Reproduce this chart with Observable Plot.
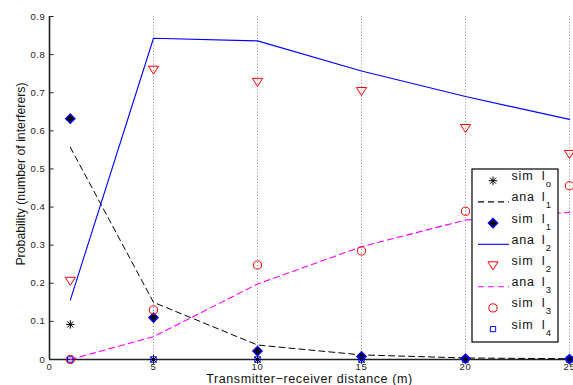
<!DOCTYPE html>
<html>
<head>
<meta charset="utf-8">
<script src="https://cdn.jsdelivr.net/npm/d3@7"></script>
<script src="https://cdn.jsdelivr.net/npm/@observablehq/plot@0.6"></script>
<style>
  html, body { margin: 0; padding: 0; background: #fff; }
  #chart svg { display: block; }
</style>
</head>
<body>
<div id="chart"></div>
<script>
// ---- data ----
const distances = [1, 5, 10, 15, 20, 25];
const simI0 = [0.092, 0, 0, 0, 0, 0];
const anaI1 = [0.557, 0.150, 0.038, 0.012, 0.004, 0.002];
const simI1 = [0.632, 0.110, 0.022, 0.008, 0.002, 0.001];
const anaI2 = [0.156, 0.843, 0.836, 0.757, 0.690, 0.630];
const simI2 = [0.206, 0.760, 0.728, 0.704, 0.607, 0.539];
const anaI3 = [0.000, 0.060, 0.198, 0.296, 0.366, 0.386];
const simI3 = [0.000, 0.130, 0.248, 0.285, 0.389, 0.456];
const simI4 = [0, 0, 0, 0, 0, 0];

const xTicks = [0, 5, 10, 15, 20, 25];
const yTicks = [0, 0.1, 0.2, 0.3, 0.4, 0.5, 0.6, 0.7, 0.8, 0.9];
const gridX = [5, 10, 15, 20, 25];

const xLabel = "Transmitter\u2212receiver distance (m)";
const yLabel = "Probability (number of interferers)";

const legendItems = [
  {kind: "sim", sub: "o", type: "asterisk"},
  {kind: "ana", sub: "1", type: "dashBlack"},
  {kind: "sim", sub: "1", type: "diamond"},
  {kind: "ana", sub: "2", type: "lineBlue"},
  {kind: "sim", sub: "2", type: "triangle"},
  {kind: "ana", sub: "3", type: "dashMagenta"},
  {kind: "sim", sub: "3", type: "circle"},
  {kind: "sim", sub: "4", type: "square"}
];

// ---- helpers ----
const series = (ys) => distances.map((x, i) => ({x, y: ys[i]}));
const triangleDown = {
  draw(context, size) {
    const r = Math.sqrt(size / Math.PI);
    context.moveTo(-r * 1.1, -r * 0.8);
    context.lineTo(r * 1.1, -r * 0.8);
    context.lineTo(0, r * 0.95);
    context.closePath();
  }
};
const star8 = {
  draw(context, size) {
    const r = Math.sqrt(size / Math.PI);
    const d = r * 0.72;
    context.moveTo(-r, 0); context.lineTo(r, 0);
    context.moveTo(0, -r); context.lineTo(0, r);
    context.moveTo(-d, -d); context.lineTo(d, d);
    context.moveTo(-d, d); context.lineTo(d, -d);
  }
};
const BLUE = "#0000ff", RED = "#ff0000", MAG = "#ff00ff", BLK = "#000000";
const FONT = "'Liberation Sans', Arial, Helvetica, sans-serif";

const R = {asterisk: 4.2, diamond: 4.2, triangle: 4.6, circle: 4.1, square: 3.0};

const chart = Plot.plot({
  width: 573,
  height: 385,
  marginLeft: 49,
  marginRight: 4,
  marginTop: 16,
  marginBottom: 26,
  style: {fontFamily: FONT, color: "#222", background: "#fff", letterSpacing: "0.6px"},
  x: {domain: [0, 25]},
  y: {domain: [0, 0.9]},
  marks: [
    // grid
    Plot.ruleX(gridX, {y1: 0, y2: 0.9, stroke: "#8c8c8c", strokeWidth: 1, strokeDasharray: "1,2.2"}),
    // axes lines and inward ticks
    Plot.ruleX([0], {y1: 0, y2: 0.9, stroke: "#222", strokeWidth: 1.6}),
    Plot.ruleY([0], {x1: 0, x2: 25.3, stroke: "#222", strokeWidth: 1.6}),
    Plot.ruleY(yTicks, {x1: 0, x2: 0.22, stroke: "#222", strokeWidth: 1}),
    Plot.ruleX(xTicks, {y1: 0, y2: 0.012, stroke: "#222", strokeWidth: 1}),
    Plot.axisX(xTicks, {tickSize: 0, tickPadding: 4, fontSize: 9.5, label: null, tickFormat: d => String(d)}),
    Plot.axisY(yTicks, {tickSize: 0, tickPadding: 4, fontSize: 9.5, label: null, tickFormat: d => d === 0 ? "0" : d3.format(".1f")(d)}),
    // series, in legend order
    Plot.dot(series(simI0), {x: "x", y: "y", symbol: star8, r: R.asterisk, stroke: BLK, strokeWidth: 1}),
    Plot.line(series(anaI1), {x: "x", y: "y", stroke: BLK, strokeWidth: 1, strokeDasharray: "6,4"}),
    Plot.dot(series(simI1), {x: "x", y: "y", symbol: "diamond2", r: R.diamond, fill: BLK, stroke: BLUE, strokeWidth: 1.3}),
    Plot.line(series(anaI2), {x: "x", y: "y", stroke: BLUE, strokeWidth: 1.1}),
    Plot.dot(series(simI2), {x: "x", y: "y", symbol: triangleDown, r: R.triangle, fill: "none", stroke: RED, strokeWidth: 1}),
    Plot.line(series(anaI3), {x: "x", y: "y", stroke: MAG, strokeWidth: 1.1, strokeDasharray: "6,4"}),
    Plot.dot(series(simI3), {x: "x", y: "y", symbol: "circle", r: R.circle, fill: "none", stroke: RED, strokeWidth: 1}),
    Plot.dot(series(simI4), {x: "x", y: "y", symbol: "square", r: R.square, fill: "none", stroke: BLUE, strokeWidth: 1}),
    // axis titles
    Plot.text([xLabel], {frameAnchor: "bottom", textAnchor: "middle", lineAnchor: "bottom", dy: 23, fontSize: 12.5, fill: "#111"}),
    Plot.text([yLabel], {frameAnchor: "left", textAnchor: "middle", lineAnchor: "middle", rotate: -90, dx: -28, dy: -14, fontSize: 12.3, fill: "#111"})
  ]
});

document.getElementById("chart").appendChild(chart);

const svg = d3.select(chart);
svg.selectAll("text").filter(function () { return this.textContent === yLabel; }).attr("letter-spacing", "0px");

// ---- legend (drawn on top, white box) ----
const lg = svg.append("g").attr("font-family", FONT).attr("font-size", 12.5).attr("fill", "#111")
  .attr("text-anchor", "start").attr("letter-spacing", "0.8px");
const box = {x: 472, y: 169, w: 86, h: 173};
lg.append("rect").attr("x", box.x).attr("y", box.y).attr("width", box.w).attr("height", box.h)
  .attr("fill", "#fff").attr("stroke", "#000").attr("stroke-width", 1.2);
const sym = (type, r) => d3.symbol(type, Math.PI * r * r)();
legendItems.forEach((it, i) => {
  const cy = 180.7 + i * 21.2;
  const g = lg.append("g");
  const mx = 493;
  if (it.type === "asterisk") {
    g.append("path").attr("d", sym(star8, R.asterisk)).attr("transform", `translate(${mx},${cy})`).attr("fill", "none").attr("stroke", BLK);
  } else if (it.type === "diamond") {
    g.append("path").attr("d", sym(d3.symbolDiamond2, R.diamond)).attr("transform", `translate(${mx},${cy})`).attr("fill", BLK).attr("stroke", BLUE).attr("stroke-width", 1.3);
  } else if (it.type === "triangle") {
    g.append("path").attr("d", sym(triangleDown, R.triangle)).attr("transform", `translate(${mx},${cy})`).attr("fill", "none").attr("stroke", RED);
  } else if (it.type === "circle") {
    g.append("path").attr("d", sym(d3.symbolCircle, R.circle)).attr("transform", `translate(${mx},${cy})`).attr("fill", "none").attr("stroke", RED);
  } else if (it.type === "square") {
    g.append("path").attr("d", sym(d3.symbolSquare, R.square)).attr("transform", `translate(${mx},${cy})`).attr("fill", "none").attr("stroke", BLUE);
  } else {
    const col = it.type === "dashBlack" ? BLK : it.type === "lineBlue" ? BLUE : MAG;
    const ln = g.append("line").attr("x1", 478).attr("x2", 509).attr("y1", cy).attr("y2", cy).attr("stroke", col).attr("stroke-width", 1.1);
    if (it.type !== "lineBlue") ln.attr("stroke-dasharray", "6,4");
  }
  g.append("text").attr("x", 511.5).attr("y", cy - 0.5).text(it.kind);
  g.append("text").attr("x", 541.5).attr("y", cy - 0.5).text("I");
  g.append("text").attr("x", 545.8).attr("y", cy + 6.5).attr("font-size", 9.5).text(it.sub);
});
</script>
</body>
</html>
